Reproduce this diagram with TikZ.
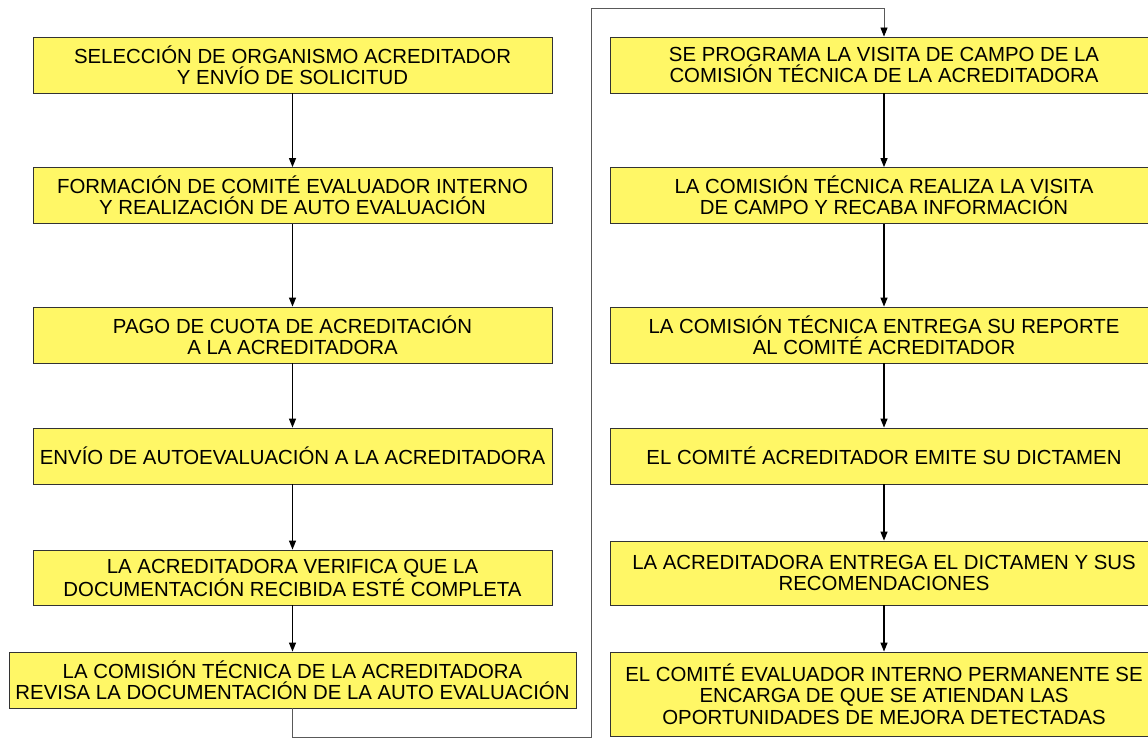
\documentclass[tikz,border=0pt]{standalone}
\usepackage{fontspec}
\setmainfont{Liberation Sans}
\usepackage{tikz}
\usetikzlibrary{arrows.meta}

\begin{document}
\begin{tikzpicture}[
    x=0.025cm, y=-0.025cm,
    every node/.style={align=center, font=\fontsize{14.5}{15.2}\selectfont},
    stepbox/.style={rectangle, draw=black!80, line width=0.6pt, fill=yellow!60, inner sep=0pt, minimum height=1.4cm, minimum width=12.975cm},
    wideBox/.style={stepbox, minimum width=14.175cm},
    rightBox/.style={stepbox, minimum width=13.7cm},
    flow/.style={draw=black, line width=0.8pt, -{Triangle[length=6.4pt, width=5pt]}},
    loop/.style={draw=black!65, line width=0.6pt, -{Triangle[length=6.4pt, width=5pt, color=black, fill=black]}}
]
\useasboundingbox (0,0) rectangle (1148,738);
\clip (0,0) rectangle (1148,738);

% Left column
\node[stepbox] (b1) at (292.5, 65) {SELECCIÓN DE ORGANISMO ACREDITADOR\\Y ENVÍO DE SOLICITUD};
\node[stepbox] (b2) at (292.5, 195.5) {FORMACIÓN DE COMITÉ EVALUADOR INTERNO\\Y REALIZACIÓN DE AUTO EVALUACIÓN};
\node[stepbox] (b3) at (292.5, 335) {PAGO DE CUOTA DE ACREDITACIÓN\\A LA ACREDITADORA};
\node[stepbox] (b4) at (292.5, 456) {ENVÍO DE AUTOEVALUACIÓN A LA ACREDITADORA};
\node[stepbox, minimum height=1.375cm] (b5) at (292.5, 577.5) {LA ACREDITADORA VERIFICA QUE LA\\DOCUMENTACIÓN RECIBIDA ESTÉ COMPLETA};
\node[wideBox] (b6) at (292.5, 680) {LA COMISIÓN TÉCNICA DE LA ACREDITADORA\\REVISA LA DOCUMENTACIÓN DE LA AUTO EVALUACIÓN};

% Right column
\node[rightBox] (r1) at (884, 65) {SE PROGRAMA LA VISITA DE CAMPO DE LA\\COMISIÓN TÉCNICA DE LA ACREDITADORA};
\node[rightBox] (r2) at (884, 195.5) {LA COMISIÓN TÉCNICA REALIZA LA VISITA\\DE CAMPO Y RECABA INFORMACIÓN};
\node[rightBox] (r3) at (884, 335) {LA COMISIÓN TÉCNICA ENTREGA SU REPORTE\\AL COMITÉ ACREDITADOR};
\node[rightBox] (r4) at (884, 456) {EL COMITÉ ACREDITADOR EMITE SU DICTAMEN};
\node[rightBox, minimum height=1.6cm] (r5) at (884, 573) {LA ACREDITADORA ENTREGA EL DICTAMEN Y SUS\\RECOMENDACIONES};
\node[rightBox, minimum height=2.1cm] (r6) at (884, 694) {EL COMITÉ EVALUADOR INTERNO PERMANENTE SE\\ENCARGA DE QUE SE ATIENDAN LAS\\OPORTUNIDADES DE MEJORA DETECTADAS};

% Corners of the loop
\coordinate (lowTurn) at (591, 737);
\coordinate (highTurn) at (591, 8);

% Arrows
\draw[flow] (b1) -- (b2);
\draw[flow] (b2) -- (b3);
\draw[flow] (b3) -- (b4);
\draw[flow] (b4) -- (b5);
\draw[flow] (b5) -- (b6);
\draw[loop] (b6) |- (lowTurn) -- (highTurn) -| (r1);
\draw[flow] (r1) -- (r2);
\draw[flow] (r2) -- (r3);
\draw[flow] (r3) -- (r4);
\draw[flow] (r4) -- (r5);
\draw[flow] (r5) -- (r6);

\end{tikzpicture}
\end{document}
